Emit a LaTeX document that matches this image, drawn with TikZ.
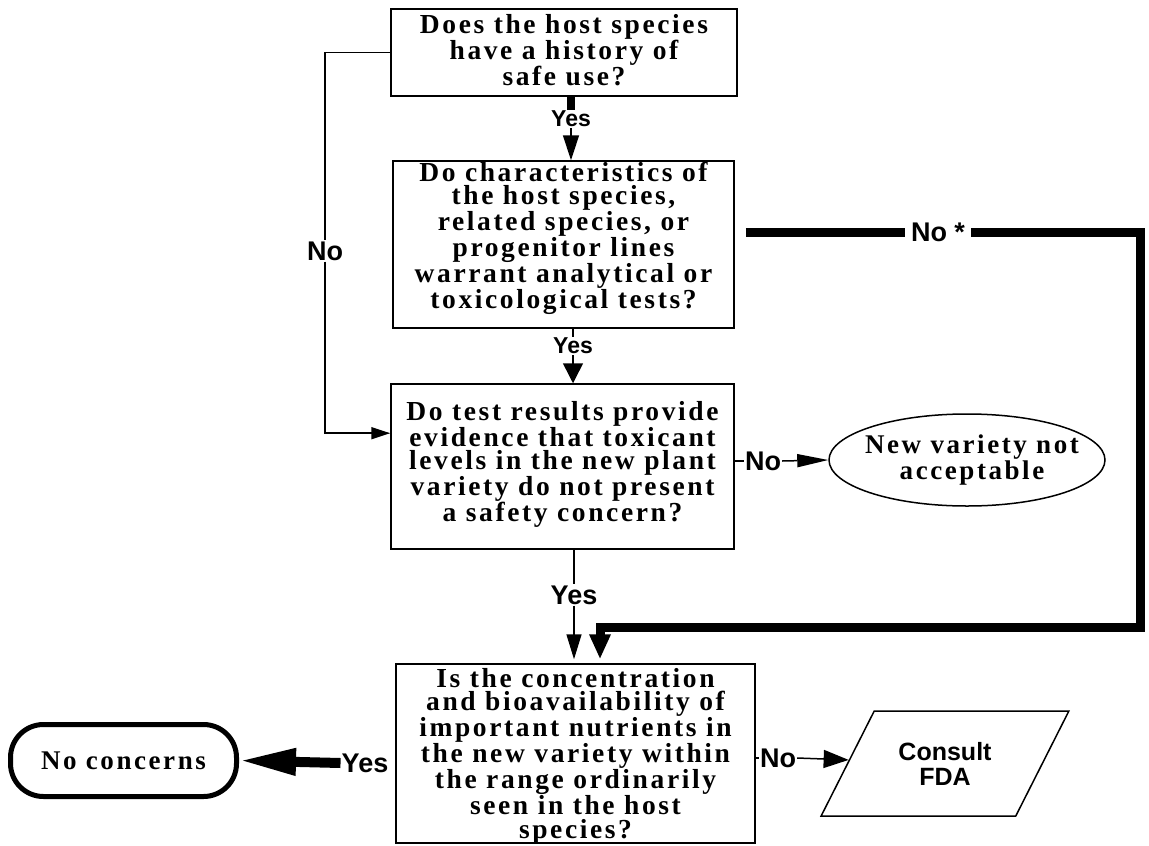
\documentclass[tikz,border=0pt]{standalone}
\usepackage{fontspec}
\setmainfont{Liberation Serif}
\newfontfamily\labf{Liberation Sans}
\newfontfamily\boxf{Liberation Serif}[LetterSpace=9.5]
\usetikzlibrary{arrows.meta,shapes.geometric,calc}
\tikzset{
  qbox/.style={draw, line width=1.5pt, inner sep=0pt},
  qtext/.style={align=center, inner sep=0pt, anchor=north,
    font=\boxf\bfseries\fontsize{27.5}{23.3}\selectfont},
  smlab/.style={font=\labf\bfseries\fontsize{23}{23}\selectfont, inner sep=1pt, fill=white},
  biglab/.style={font=\labf\bfseries\fontsize{27}{27}\selectfont, inner sep=1pt, fill=white},
  thinln/.style={line width=1.5pt},
  thickln/.style={line width=9pt},
}
\begin{document}
\begin{tikzpicture}[x=1pt,y=-1pt]
\path[use as bounding box] (0,0) rectangle (1149,846);

% question boxes
\node[qbox, minimum width=346, minimum height=87] (b1) at (564,52.5) {};
\node[qtext] (t1) at (564,14) {Does the host species\\have a history of\\safe use?};
\node[qbox, minimum width=341, minimum height=167] (b2) at (563.5,244.5) {};
\node[qtext] (t2) at (563.5,162) {Do characteristics of\\the host species,\\related species, or\\progenitor lines\\warrant analytical or\\toxicological tests?};
\node[qbox, minimum width=343, minimum height=165] (b3) at (562.5,466.5) {};
\node[qtext] (t3) at (562.5,401) {Do test results provide\\evidence that toxicant\\levels in the new plant\\variety do not present\\a safety concern?};
\node[qbox, minimum width=359, minimum height=179] (b4) at (575.5,753.5) {};
\node[qtext] (t4) at (575.5,668) {Is the concentration\\and bioavailability of\\important nutrients in\\the new variety within\\the range ordinarily\\seen in the host\\species?};

% outcomes
\node[draw, ellipse, line width=1.5pt, minimum width=276, minimum height=92, inner sep=0pt] (ell) at (967,460) {};
\node[align=center, inner sep=0pt, font=\boxf\bfseries\fontsize{27}{24}\selectfont] (ellt) at (972,460) {New variety not\\acceptable};
\node[draw, line width=5pt, rounded corners=33pt, minimum width=226, minimum height=72, inner sep=0pt,
  font=\boxf\bfseries\fontsize{27}{27}\selectfont] (nc) at (123.5,760.5) {No concerns};
\node[draw, line width=1.5pt, trapezium, trapezium left angle=51, trapezium right angle=129,
  trapezium stretches, minimum width=248, minimum height=105, inner sep=0pt, align=center,
  font=\labf\bfseries\fontsize{25}{25}\selectfont] (fda) at (945,763.5) {Consult\\FDA};

% labels
\node[smlab] (yes1) at (571,119) {Yes};
\node[smlab] (yes2) at (573,346) {Yes};
\node[biglab] (yes3) at (574,595) {Yes};
\node[biglab] (noL) at (325,251) {No};
\node[biglab, inner xsep=6pt] (nostar) at (938,232) {No *};
\node[biglab] (noE) at (763,461) {No};
\node[biglab] (yesL) at (365,763) {Yes};
\node[biglab] (noR) at (778,758) {No};

\coordinate (in3) at ($(b3.north west)!0.3!(b3.south west)$);
\coordinate (ns0) at ($(b2.east |- nostar)+(11,0)$);
\coordinate (c1) at (1140,232);
\coordinate (c2) at (1140,627);
\coordinate (c3) at (600,627);

% connectors
\draw[line width=8pt] (b1.south -| yes1) -- (yes1.north);
\draw[thinln, -{Triangle[length=25pt,width=16pt]}] (yes1.south) -- (yes1.south |- b2.north);
\draw[thinln] (b2.south -| yes2) -- (yes2.north);
\draw[thinln, -{Triangle[length=20pt,width=20pt]}] (yes2.south) -- (yes2.south |- b3.north);
\draw[thinln] (b3.south -| yes3) -- (yes3.north);
\draw[thinln, shorten >=4pt, -{Triangle[length=25pt,width=15pt]}] (yes3.south) -- (yes3.south |- b4.north);
\draw[thinln] (b1.west) -| (noL.north);
\draw[thinln, -{Triangle[length=19pt,width=12pt]}] (noL.south) |- (in3);
\draw[thickln] (ns0) -- (nostar.west);
\draw[thickln, shorten >=4pt, -{Triangle[length=25pt,width=20pt]}] (nostar.east) -- (c1) -- (c2) -- (c3) -- (c3 |- b4.north);
\draw[thinln] (b3.east |- noE) -- (noE.west);
\draw[thinln, -{Triangle[length=31pt,width=13pt]}] (noE.east) -- (ell.west);
\draw[line width=10pt, -{Triangle[length=57pt,width=25pt]}] (yesL.west) -- (nc.east);
\draw[thinln] (b4.east |- noR) -- (noR.west);
\draw[thinln, -{Triangle[length=25pt,width=18pt]}] (noR.east) -- (fda);
\end{tikzpicture}
\end{document}
